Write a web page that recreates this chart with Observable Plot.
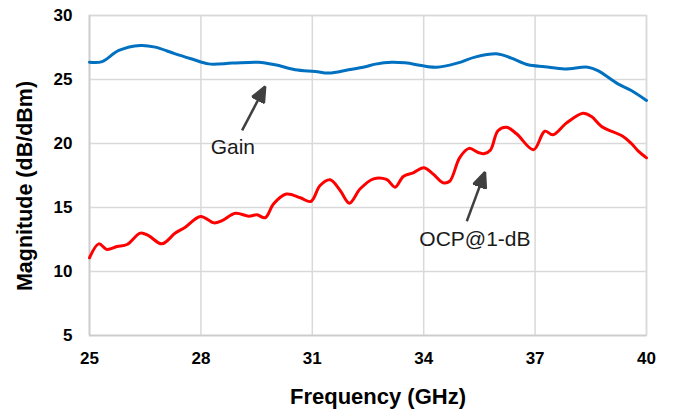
<!DOCTYPE html>
<html>
<head>
<meta charset="utf-8">
<script src="https://cdn.jsdelivr.net/npm/d3@7"></script>
<script src="https://cdn.jsdelivr.net/npm/@observablehq/plot@0.6"></script>
<style>
  html, body { margin: 0; padding: 0; background: #fff; }
</style>
</head>
<body>
<div id="chart"></div>
<script>
// Gain (dB) vs frequency (GHz)
const gainFreq = [25.0, 25.34, 25.79, 26.37, 26.77, 27.31, 27.76, 28.21, 28.84, 29.55, 30.0, 30.54, 31.08, 31.44, 31.98, 32.43, 32.7, 33.14, 33.5, 34.35, 34.93, 35.38, 36.0, 36.36, 36.81, 37.26, 37.8, 38.42, 38.69, 39.23, 39.59, 40.0];
const gainVal  = [26.35, 26.4, 27.27, 27.66, 27.53, 27.0, 26.6, 26.22, 26.28, 26.35, 26.15, 25.76, 25.63, 25.5, 25.76, 26.0, 26.2, 26.35, 26.3, 25.96, 26.3, 26.75, 27.0, 26.67, 26.15, 26.0, 25.83, 25.96, 25.7, 24.66, 24.14, 23.36];

// OCP@1-dB (dBm) vs frequency (GHz)
const ocpFreq = [25.0, 25.25, 25.47, 25.74, 26.01, 26.37, 26.59, 26.95, 27.31, 27.58, 27.99, 28.35, 28.57, 28.93, 29.29, 29.51, 29.73, 29.96, 30.3, 30.68, 30.96, 31.21, 31.48, 31.75, 32.0, 32.29, 32.65, 33.0, 33.23, 33.45, 33.72, 34.0, 34.25, 34.52, 34.7, 34.97, 35.22, 35.47, 35.62, 35.8, 36.0, 36.23, 36.5, 36.96, 37.26, 37.48, 37.84, 38.29, 38.52, 38.79, 39.37, 39.6, 39.78, 40.0];
const ocpVal  = [11.07, 12.16, 11.72, 11.95, 12.11, 13.0, 12.8, 12.16, 13.0, 13.46, 14.3, 13.8, 13.98, 14.55, 14.32, 14.43, 14.2, 15.29, 16.05, 15.76, 15.47, 16.72, 17.16, 16.33, 15.34, 16.46, 17.24, 17.19, 16.59, 17.42, 17.71, 18.1, 17.63, 16.93, 17.05, 18.9, 19.62, 19.3, 19.2, 19.5, 21.0, 21.27, 20.76, 19.51, 20.96, 20.68, 21.59, 22.37, 22.1, 21.33, 20.55, 19.98, 19.4, 18.88];

// Axis ticks
const xTicks = [25, 28, 31, 34, 37, 40];
const yTicks = [5, 10, 15, 20, 25, 30];

// Annotations
const annLabels = ["Gain", "OCP@1-dB"];
const annTextX  = [28.86, 35.38];
const annTextY  = [19.2, 12.03];
const arrowX1   = [29.11, 35.16];
const arrowY1   = [21.02, 13.93];
const arrowX2   = [29.73, 35.65];
const arrowY2   = [24.45, 17.76];

const gainData = gainFreq.map((f, i) => ({f, v: gainVal[i]}));
const ocpData  = ocpFreq.map((f, i) => ({f, v: ocpVal[i]}));
const annData  = annLabels.map((t, i) => ({t, x: annTextX[i], y: annTextY[i], x1: arrowX1[i], y1: arrowY1[i], x2: arrowX2[i], y2: arrowY2[i]}));

const headMarker = (color) => {
  const m = d3.create("svg:marker")
    .attr("viewBox", "-16 -8 17 16")
    .attr("markerWidth", 17)
    .attr("markerHeight", 16)
    .attr("markerUnits", "userSpaceOnUse")
    .attr("refX", 0)
    .attr("refY", 0)
    .attr("orient", "auto");
  m.append("path").attr("d", "M0,0L-15,-6.5L-15,6.5Z").attr("fill", color);
  return m.node();
};

const fontFamily = "'Liberation Sans', Arial, Helvetica, sans-serif";

const chart = Plot.plot({
  width: 680,
  height: 412,
  marginLeft: 89,
  marginRight: 34,
  marginTop: 15,
  marginBottom: 77,
  style: {fontFamily, color: "#000", background: "#fff"},
  x: {domain: [25, 40]},
  y: {domain: [5, 30]},
  marks: [
    Plot.gridX(xTicks, {stroke: "#d9d9d9", strokeOpacity: 1, strokeWidth: 1.5}),
    Plot.gridY(yTicks, {stroke: "#d9d9d9", strokeOpacity: 1, strokeWidth: 1.5}),
    Plot.frame({stroke: "#d9d9d9", strokeWidth: 1.5}),
    Plot.ruleX([25], {stroke: "#cccccc", strokeWidth: 1.5}),
    Plot.ruleY([5], {stroke: "#cccccc", strokeWidth: 1.5}),
    Plot.axisX({ticks: xTicks, tickSize: 0, tickPadding: 16.5, fontSize: 17, fontWeight: "bold", label: null}),
    Plot.axisY({ticks: yTicks, tickSize: 0, tickPadding: 17, fontSize: 17, fontWeight: "bold", label: null}),
    Plot.line(gainData, {x: "f", y: "v", stroke: "#0070C0", strokeWidth: 3, curve: "catmull-rom"}),
    Plot.line(ocpData, {x: "f", y: "v", stroke: "#FF0000", strokeWidth: 3, curve: "catmull-rom"}),
    Plot.link(annData, {x1: "x1", y1: "y1", x2: "x2", y2: "y2", stroke: "#404040", strokeWidth: 2.5, markerEnd: headMarker}),
    Plot.text(annData, {x: "x", y: "y", text: "t", fontSize: 21, fill: "#1a1a1a", lineAnchor: "bottom", textAnchor: "middle"}),
    Plot.text(["Frequency (GHz)"], {frameAnchor: "bottom", dx: 10, dy: 61, fontSize: 22, fontWeight: "bold", fill: "#000", lineAnchor: "middle", textAnchor: "middle"}),
    Plot.text(["Magnitude (dB/dBm)"], {frameAnchor: "left", dx: -64, dy: 10.5, rotate: -90, fontSize: 21.5, fontWeight: "bold", fill: "#000", lineAnchor: "middle", textAnchor: "middle"})
  ]
});

document.getElementById("chart").appendChild(chart);
</script>
</body>
</html>
